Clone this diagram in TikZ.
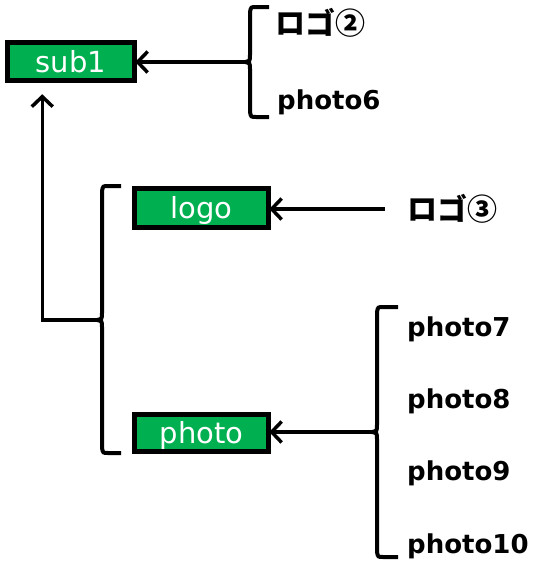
\documentclass[tikz,border=0pt]{standalone}
\usepackage{fontspec}
\setmainfont{DejaVu Sans}
\newfontfamily\cjk{Noto Sans CJK JP}
\usetikzlibrary{arrows.meta,calc}
\definecolor{boxgreen}{HTML}{00B050}
\tikzset{
  box/.style={draw=black, line width=5.5pt, fill=boxgreen, text=white,
    font=\fontsize{29}{32}\selectfont, inner sep=0pt, text height=21pt, text depth=0pt},
  lbl/.style={font=\bfseries\fontsize{26}{30}\selectfont, inner sep=0pt, anchor=base west},
  jlbl/.style={font=\cjk\bfseries\fontsize{30}{32}\selectfont, inner sep=0pt, anchor=west},
  conn/.style={line width=3.5pt, -{Straight Barb[length=10pt,width=21pt]}},
  brace/.style={line width=4pt},
}
\begin{document}
\begin{tikzpicture}[x=1pt,y=-1pt]
\useasboundingbox (0,0) rectangle (536,565);
% boxes
\node[box, minimum width=127pt, minimum height=38pt] (sub1) at (71,61.5) {sub1};
\node[box, minimum width=134pt, minimum height=39pt] (logo) at (201.5,208) {logo};
\node[box, minimum width=134pt, minimum height=37pt] (photo) at (201.5,433) {photo};
% labels
\node[jlbl] (logo2) at (275,23) {ロゴ②};
\node[lbl] (p6) at (277,109) {photo6};
\node[jlbl] (logo3) at (407,209) {ロゴ③};
\node[lbl] (p7) at (407,336) {photo7};
\node[lbl] (p8) at (407,408) {photo8};
\node[lbl] (p9) at (407,480) {photo9};
\node[lbl] (p10) at (407,553) {photo10};
% brackets
\draw[brace] (269,7) -- (256,7) .. controls (251,7) .. (250,12) -- (250,55)
  .. controls (250,61) .. (245,62) coordinate (b1c) .. controls (250,63) .. (250,69)
  -- (250,112) .. controls (251,117) .. (256,117) -- (269,117);
\draw[brace] (121,186) -- (108,186) .. controls (103,186) .. (102,191) -- (102,313)
  .. controls (102,319) .. (97,320) coordinate (b2c) .. controls (102,321) .. (102,327)
  -- (102,448) .. controls (103,453) .. (108,453) -- (121,453);
\draw[brace] (398,307) -- (383,307) .. controls (378,307) .. (377,312) -- (377,425)
  .. controls (377,431) .. (372,432) coordinate (b3c) .. controls (377,433) .. (377,439)
  -- (377,552) .. controls (378,557) .. (383,557) -- (398,557);
% connectors
\draw[conn, shorten >=-2pt] (b1c) -- (b1c -| sub1.east);
\draw[conn, shorten >=11pt] (b2c) -| ([xshift=37.5pt]sub1.south west);
\draw[conn, shorten <=22pt, shorten >=-2pt] (logo3.west) -- (logo3.west -| logo.east);
\draw[conn, shorten >=-2pt] (b3c) -- (b3c -| photo.east);
\end{tikzpicture}
\end{document}
